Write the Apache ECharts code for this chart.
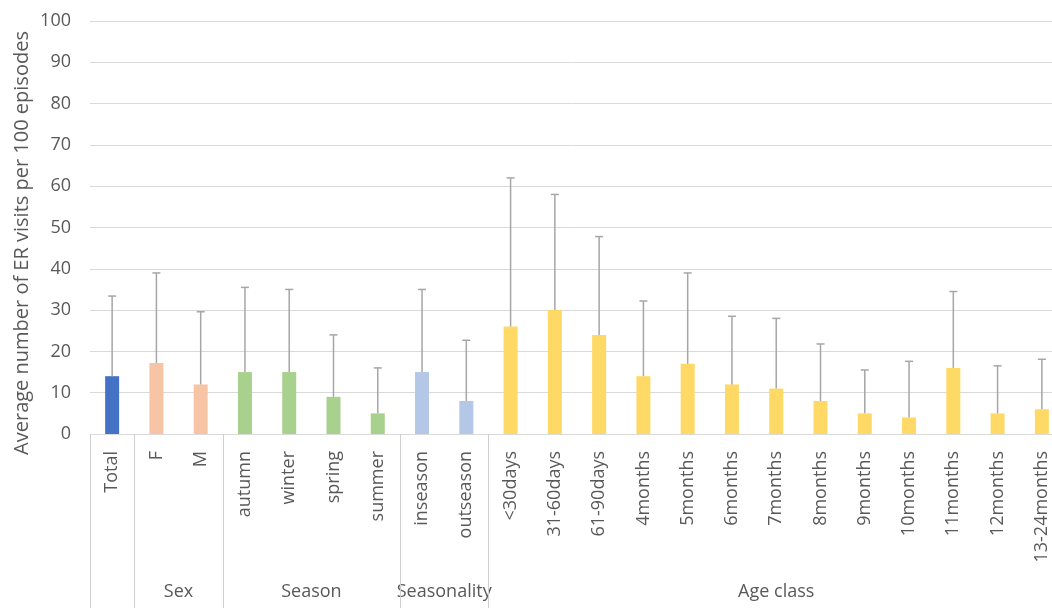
<!DOCTYPE html>
<html><head><meta charset="utf-8">
<script src="https://cdn.jsdelivr.net/npm/echarts@6/dist/echarts.min.js"></script>
<style>html,body{margin:0;padding:0;background:#fff}#c{width:1052px;height:608px}</style>
</head><body><div id="c"></div>
<script>
const categories = ['Total','F','M','autumn','winter','spring','summer','inseason','outseason',
  '<30days','31-60days','61-90days','4months','5months','6months','7months','8months','9months',
  '10months','11months','12months','13-24months'];
const means = [14,17.2,12,15,15,9,5,15,8,26,30,24,14,17,12,11,8,5,4,16,5,6];
const upper = [33.4,39,29.6,35.5,35,24,16,35,22.7,62,58,47.8,32.2,39,28.5,28,21.8,15.5,17.6,34.5,16.5,18.1];
const groupOf = ['Total','Sex','Sex','Season','Season','Season','Season','Seasonality','Seasonality',
  'Age class','Age class','Age class','Age class','Age class','Age class','Age class','Age class','Age class',
  'Age class','Age class','Age class','Age class'];
const groupNames = ['Sex','Season','Seasonality','Age class'];
const groupColors = {'Total':'#4472C4','Sex':'#F7C5A5','Season':'#A9D18E','Seasonality':'#B4C7E7','Age class':'#FFD966'};
const yTicks = {min:0,max:100,interval:10};
const yTitle = 'Average number of ER visits per 100 episodes';

const font = 'Open Sans';
const txt = '#595959';
const chart = echarts.init(document.getElementById('c'));
const boundaryIdx = new Set([0]);
for (let i=1;i<categories.length;i++) if (groupOf[i]!==groupOf[i-1]) boundaryIdx.add(i);

chart.setOption({
  animation:false,
  grid:{left:90,right:-12,top:21,bottom:174,outerBoundsMode:'none',containLabel:false},
  xAxis:{type:'category',data:categories,
    axisLine:{lineStyle:{color:'#d9d9d9'}},
    axisTick:{show:true,length:174,interval:(i)=>boundaryIdx.has(i),lineStyle:{color:'#d0d0d0'}},
    axisLabel:{rotate:90,interval:0,margin:17,fontFamily:font,fontSize:18,color:txt}},
  yAxis:{type:'value',min:yTicks.min,max:yTicks.max,interval:yTicks.interval,
    axisLine:{show:false},axisTick:{show:false},
    axisLabel:{margin:19,fontFamily:font,fontSize:18,color:txt},
    splitLine:{lineStyle:{color:'#d9d9d9'}}},
  series:[
    {type:'bar',barWidth:14,data:means.map((v,i)=>({value:v,itemStyle:{color:groupColors[groupOf[i]]}}))},
    {type:'custom',data:means.map((v,i)=>[i,v,upper[i]]),z:3,
      renderItem:(params,api)=>{
        const lo=api.coord([api.value(0),api.value(1)]);
        const hi=api.coord([api.value(0),api.value(2)]);
        const s={stroke:'#a6a6a6',lineWidth:1.5};
        return {type:'group',children:[
          {type:'line',shape:{x1:lo[0],y1:lo[1],x2:hi[0],y2:hi[1]},style:s},
          {type:'line',shape:{x1:hi[0]-4,y1:hi[1],x2:hi[0]+4,y2:hi[1]},style:s}]};
      }}
  ]
});

const y0=chart.convertToPixel({yAxisIndex:0},0);
const labels=[{type:'text',x:22,y:243,rotation:Math.PI/2,
  style:{text:yTitle,fontFamily:font,fontSize:20,fill:txt,align:'center',verticalAlign:'middle'}}];
groupNames.forEach(g=>{
  const idx=categories.map((c,i)=>i).filter(i=>groupOf[i]===g);
  const a=chart.convertToPixel({xAxisIndex:0},categories[idx[0]]);
  const b=chart.convertToPixel({xAxisIndex:0},categories[idx[idx.length-1]]);
  labels.push({type:'text',x:(a+b)/2,y:y0+158,style:{text:g,fontFamily:font,fontSize:18,fill:txt,align:'center',verticalAlign:'middle'}});
});
chart.setOption({graphic:labels});
</script></body></html>
